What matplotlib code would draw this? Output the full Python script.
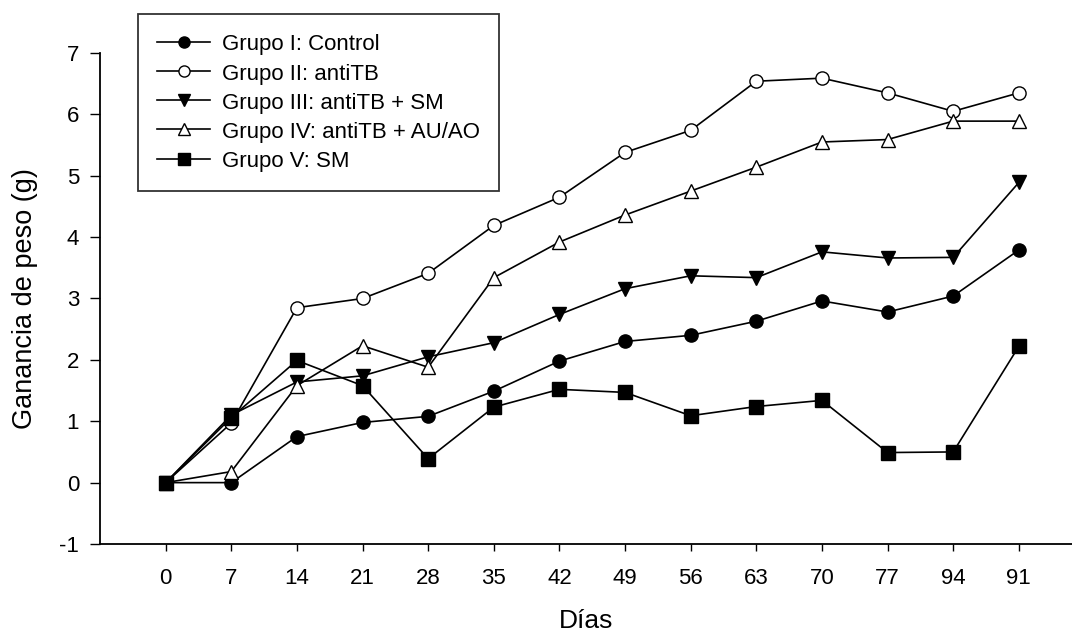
import numpy as np
import matplotlib
matplotlib.use("Agg")
import matplotlib.pyplot as plt

plt.rcParams['font.family'] = ['Liberation Sans', 'DejaVu Sans']
plt.rcParams['axes.unicode_minus'] = False

dias = ['0', '7', '14', '21', '28', '35', '42', '49', '56', '63', '70', '77', '94', '91']

grupo_1 = [0.0, 0.0, 0.75, 0.98, 1.08, 1.49, 1.98, 2.30, 2.40, 2.63, 2.96, 2.78, 3.04, 3.79]
grupo_2 = [0.0, 0.97, 2.85, 3.00, 3.41, 4.19, 4.65, 5.38, 5.74, 6.54, 6.59, 6.35, 6.05, 6.35]
grupo_3 = [0.0, 1.10, 1.64, 1.74, 2.05, 2.28, 2.74, 3.16, 3.37, 3.34, 3.76, 3.66, 3.67, 4.89]
grupo_4 = [0.0, 0.18, 1.58, 2.23, 1.88, 3.34, 3.92, 4.36, 4.75, 5.14, 5.55, 5.59, 5.89, 5.89]
grupo_5 = [0.0, 1.06, 1.99, 1.58, 0.39, 1.23, 1.52, 1.47, 1.09, 1.24, 1.34, 0.49, 0.50, 2.22]

etiquetas = ['Grupo I: Control', 'Grupo II: antiTB', 'Grupo III: antiTB + SM',
             'Grupo IV: antiTB + AU/AO', 'Grupo V: SM']

x = np.arange(len(dias))

fig = plt.figure(figsize=(10.72, 6.37), dpi=100)
ax = fig.add_axes([0.0933, 0.146, 0.9067, 0.7708])

estilos = [('o', 'black'), ('o', 'white'), ('v', 'black'), ('^', 'white'), ('s', 'black')]
series = [grupo_1, grupo_2, grupo_3, grupo_4, grupo_5]
for serie, (m, fc), lab in zip(series, estilos, etiquetas):
    ax.plot(x, serie, color='black', lw=1.2, marker=m, markersize=9.5,
            markerfacecolor=fc, markeredgecolor='black', markeredgewidth=1.0,
            label=lab)

ax.set_xlim(-1.0, 13.81)
ax.set_ylim(-1, 7)
ax.set_xticks(x)
ax.set_xticklabels(dias)
ax.set_yticks(range(-1, 8))
ax.spines['top'].set_visible(False)
ax.spines['right'].set_visible(False)
for s in ['left', 'bottom']:
    ax.spines[s].set_linewidth(1.3)
ax.tick_params(axis='y', direction='out', length=7, width=1.0, labelsize=16, pad=8)
ax.tick_params(axis='x', direction='out', length=5, width=1.0, labelsize=16, pad=12)

ax.set_ylabel('Ganancia de peso (g)', fontsize=19.5, labelpad=15)
ax.set_xlabel('Días', fontsize=19, labelpad=15)

leg = ax.legend(loc='upper left', bbox_to_anchor=(138 / 1072, 1 - 14 / 637),
                bbox_transform=fig.transFigure, fontsize=16, frameon=True,
                fancybox=False, edgecolor='black', handlelength=2.4,
                handleheight=1.0, handletextpad=0.55, labelspacing=0.3,
                borderpad=0.85, borderaxespad=0)
leg.get_frame().set_linewidth(1.3)
for h in leg.legend_handles:
    h.set_markersize(8)

fig.savefig('out.png', dpi=100)
